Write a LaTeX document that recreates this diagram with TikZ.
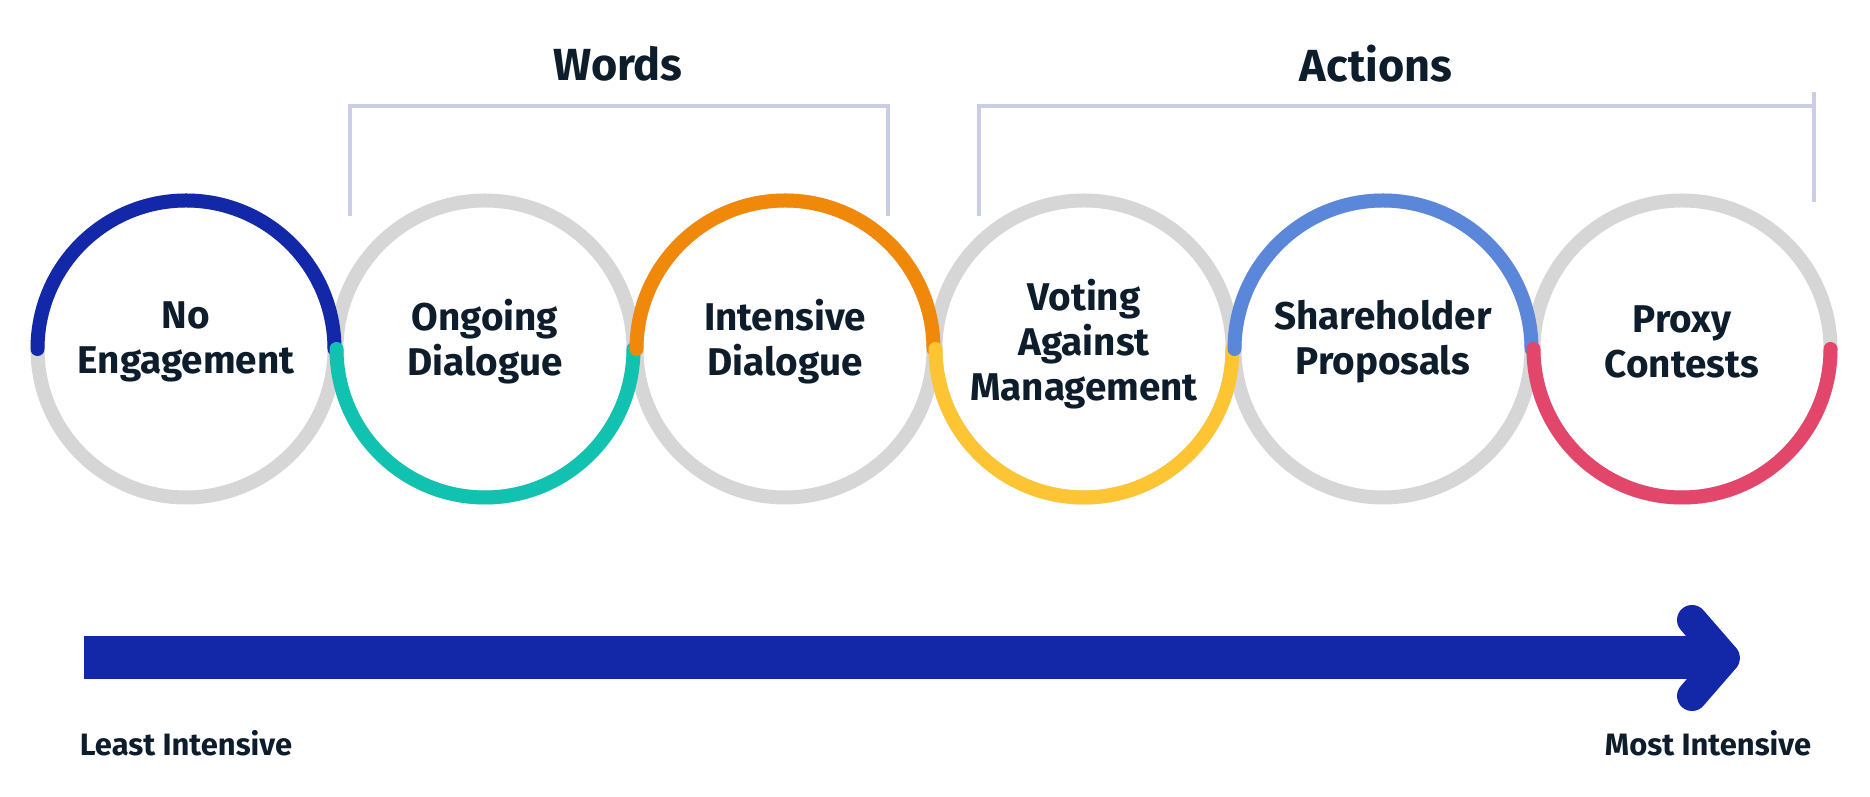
\documentclass[tikz,border=0pt]{standalone}
\usepackage{fontspec}
\setmainfont{Fira Sans}
\definecolor{ink}{HTML}{0E1D2C}
\definecolor{ringgrey}{HTML}{D6D6D6}
\definecolor{ringnavy}{HTML}{1228A8}
\definecolor{ringteal}{HTML}{12C2B0}
\definecolor{ringorange}{HTML}{F0880A}
\definecolor{ringyellow}{HTML}{FDC533}
\definecolor{ringblue}{HTML}{5B87DB}
\definecolor{ringred}{HTML}{E2466A}
\definecolor{bracelav}{HTML}{C9CDE6}
\tikzset{
  ring/.style={circle,draw=ringgrey,line width=.14cm,minimum size=2.97cm,
    inner sep=0pt,outer sep=0pt},
  lab/.style={align=center,text=ink,font=\lab},
  arcline/.style={line width=.14cm,line cap=round},
  brace/.style={draw=bracelav,line width=.04cm},
}
\begin{document}
\begin{tikzpicture}
\def\lab{\fontsize{11}{12.8}\selectfont\bfseries}
\def\head{\fontsize{12.8}{14}\selectfont\bfseries}
\def\foot{\fontsize{8.8}{10}\selectfont\bfseries}
\useasboundingbox (0,0) rectangle (18.7,7.97);
% rings
\node[ring] (c1) at (1.86,4.48) {};
\node[ring] (c2) at (4.85,4.48) {};
\node[ring] (c3) at (7.85,4.48) {};
\node[ring] (c4) at (10.84,4.48) {};
\node[ring] (c5) at (13.83,4.48) {};
\node[ring] (c6) at (16.82,4.48) {};
\draw[arcline,ringnavy] (c1.west) arc (180:0:1.485); %top
\draw[arcline,ringteal] (c2.west) arc (180:360:1.485); %bottom
\draw[arcline,ringorange] (c3.west) arc (180:0:1.485); %top
\draw[arcline,ringyellow] (c4.west) arc (180:360:1.485); %bottom
\draw[arcline,ringblue] (c5.west) arc (180:0:1.485); %top
\draw[arcline,ringred] (c6.east) arc (0:-180:1.485); %bottom
\node[lab] (t1) at (1.86,4.55) {No\\Engagement};
\node[lab] (t2) at (4.85,4.55) {Ongoing\\Dialogue};
\node[lab] (t3) at (7.85,4.55) {Intensive\\Dialogue};
\node[lab] (t4) at (10.84,4.53) {Voting\\Against\\Management};
\node[lab] (t5) at (13.83,4.55) {Shareholder\\Proposals};
\node[lab] (t6) at (16.82,4.55) {Proxy\\Contests};
% brackets
\draw[brace] (3.50,5.81)--(3.50,6.91)--(8.88,6.91)--(8.88,5.81); %words
\draw[brace] (9.79,5.81)--(9.79,6.91)--(18.14,6.91)
  (18.14,7.05)--(18.14,5.95); %actions
\node[font=\head,text=ink] (words) at (6.18,7.33) {Words};
\node[font=\head,text=ink] (actions) at (13.76,7.33) {Actions};
% scale arrow
\coordinate (low) at (0.84,1.39);
\coordinate (tip) at (17.25,1.39);
\draw[ringnavy,line width=.43cm] (low)--(17.05,1.39);
\draw[ringnavy,line width=.30cm,line cap=round,line join=round]
  (16.92,1.77)--(tip)--(16.92,1.01);
\node[font=\foot,text=ink] (least) at (1.86,0.54) {Least Intensive};
\node[font=\foot,text=ink] (most) at (17.08,0.54) {Most Intensive};
\end{tikzpicture}
\end{document}
